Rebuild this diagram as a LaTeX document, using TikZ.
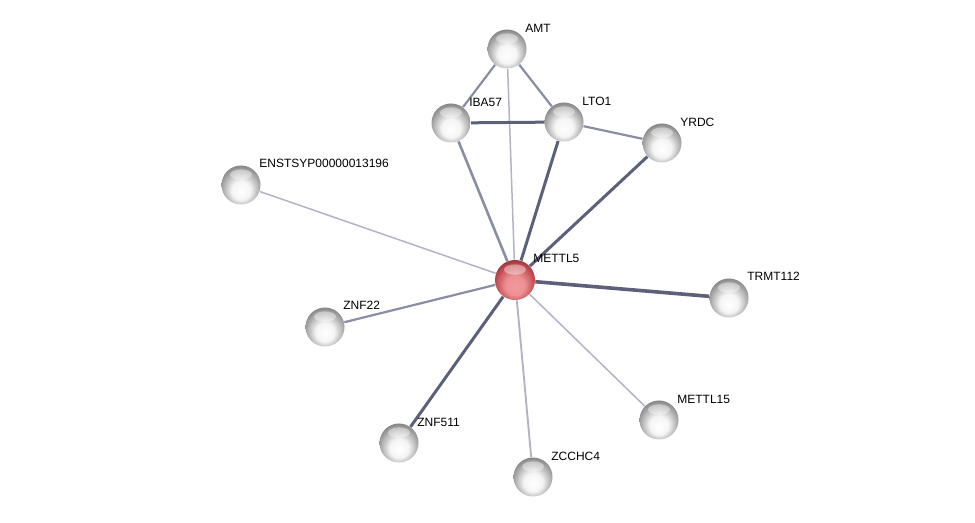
\documentclass[tikz,border=0pt]{standalone}
\usepackage{fontspec}
\setmainfont{Liberation Sans}
\usepackage{tikz}
\usetikzlibrary{calc,positioning,backgrounds}
\definecolor{EdgeDark}{HTML}{5C6079}
\definecolor{EdgeMid}{HTML}{8A8DA3}
\definecolor{EdgeLight}{HTML}{B2B4C6}
\definecolor{BallRim}{HTML}{7E7E7E}
\definecolor{BallTop}{HTML}{B4B4B4}
\definecolor{RedCore}{HTML}{F29A9C}
\definecolor{RedTop}{HTML}{C9575B}
\definecolor{RedRim}{HTML}{9A3035}

\pgfdeclareradialshading{greyball}{\pgfpoint{0bp}{-9bp}}{%
  color(0bp)=(white); color(12bp)=(white!96!black); color(22bp)=(BallTop);
  color(30bp)=(BallRim); color(50bp)=(BallRim)}
\pgfdeclareradialshading{redball}{\pgfpoint{0bp}{-9bp}}{%
  color(0bp)=(RedCore); color(12bp)=(RedCore!85!RedTop); color(22bp)=(RedTop);
  color(30bp)=(RedRim); color(50bp)=(RedRim)}

\tikzset{
  prot/.style={circle, minimum size=19.5pt, inner sep=0pt, shading=greyball,
    path picture={\fill[white, opacity=0.4] ($(path picture bounding box.center)+(0,5.2pt)$) ellipse (5.5pt and 2.6pt);}},
  query/.style={prot, shading=redball, minimum size=20pt},
  lbl/.style={anchor=west, inner sep=0pt, font=\fontsize{6}{7}\selectfont},
  edgeweak/.style={EdgeLight, line width=0.75pt},
  edgemid/.style={EdgeMid, line width=1.1pt},
  edgestrong/.style={EdgeDark, line width=1.5pt},
}

\begin{document}
\begin{tikzpicture}[x=0.5pt, y=-0.5pt]
  % Page frame
  \useasboundingbox (0,0) rectangle (975,523);

  % Proteins
  \node[query] (mettl5) at (515,280) {};
  \node[prot] (amt) at (507,49) {};
  \node[prot] (iba57) at (451,123) {};
  \node[prot] (lto1) at (564,122) {};
  \node[prot] (yrdc) at (662,143) {};
  \node[prot] (enst) at (241,185) {};
  \node[prot] (trmt112) at (729,298) {};
  \node[prot] (znf22) at (325,327) {};
  \node[prot] (mettl15) at (659,420) {};
  \node[prot] (znf511) at (399,443) {};
  \node[prot] (zcchc4) at (533,477) {};

  % Labels
  \node[lbl] at ($(mettl5)+(18,-22)$) {METTL5};
  \node[lbl] at ($(amt)+(18,-21)$) {AMT};
  \node[lbl] at ($(iba57)+(18,-21)$) {IBA57};
  \node[lbl] at ($(lto1)+(18,-21)$) {LTO1};
  \node[lbl] at ($(yrdc)+(18,-21)$) {YRDC};
  \node[lbl] at ($(enst)+(18,-22)$) {ENSTSYP00000013196};
  \node[lbl] at ($(trmt112)+(18,-22)$) {TRMT112};
  \node[lbl] at ($(znf22)+(18,-22)$) {ZNF22};
  \node[lbl] at ($(mettl15)+(18,-21)$) {METTL15};
  \node[lbl] at ($(znf511)+(18,-21)$) {ZNF511};
  \node[lbl] at ($(zcchc4)+(18,-21)$) {ZCCHC4};

  % Interactions
  \begin{scope}[on background layer]
    \draw[edgemid] (amt) -- (iba57);
    \draw[edgemid] (amt) -- (lto1);
    \draw[edgeweak] (amt) -- (mettl5);
    \draw[edgestrong] (iba57) -- (lto1);
    \draw[edgemid, line width=1.3pt] (iba57) -- (mettl5);
    \draw[edgestrong] (lto1) -- (mettl5);
    \draw[edgemid] (lto1) -- (yrdc);
    \draw[edgestrong] (yrdc) -- (mettl5);
    \draw[edgeweak] (enst) -- (mettl5);
    \draw[edgestrong, line width=1.8pt] (trmt112) -- (mettl5);
    \draw[edgemid] (znf22) -- (mettl5);
    \draw[edgeweak] (mettl15) -- (mettl5);
    \draw[edgestrong] (znf511) -- (mettl5);
    \draw[edgeweak, line width=0.95pt] (zcchc4) -- (mettl5);
  \end{scope}
\end{tikzpicture}
\end{document}
